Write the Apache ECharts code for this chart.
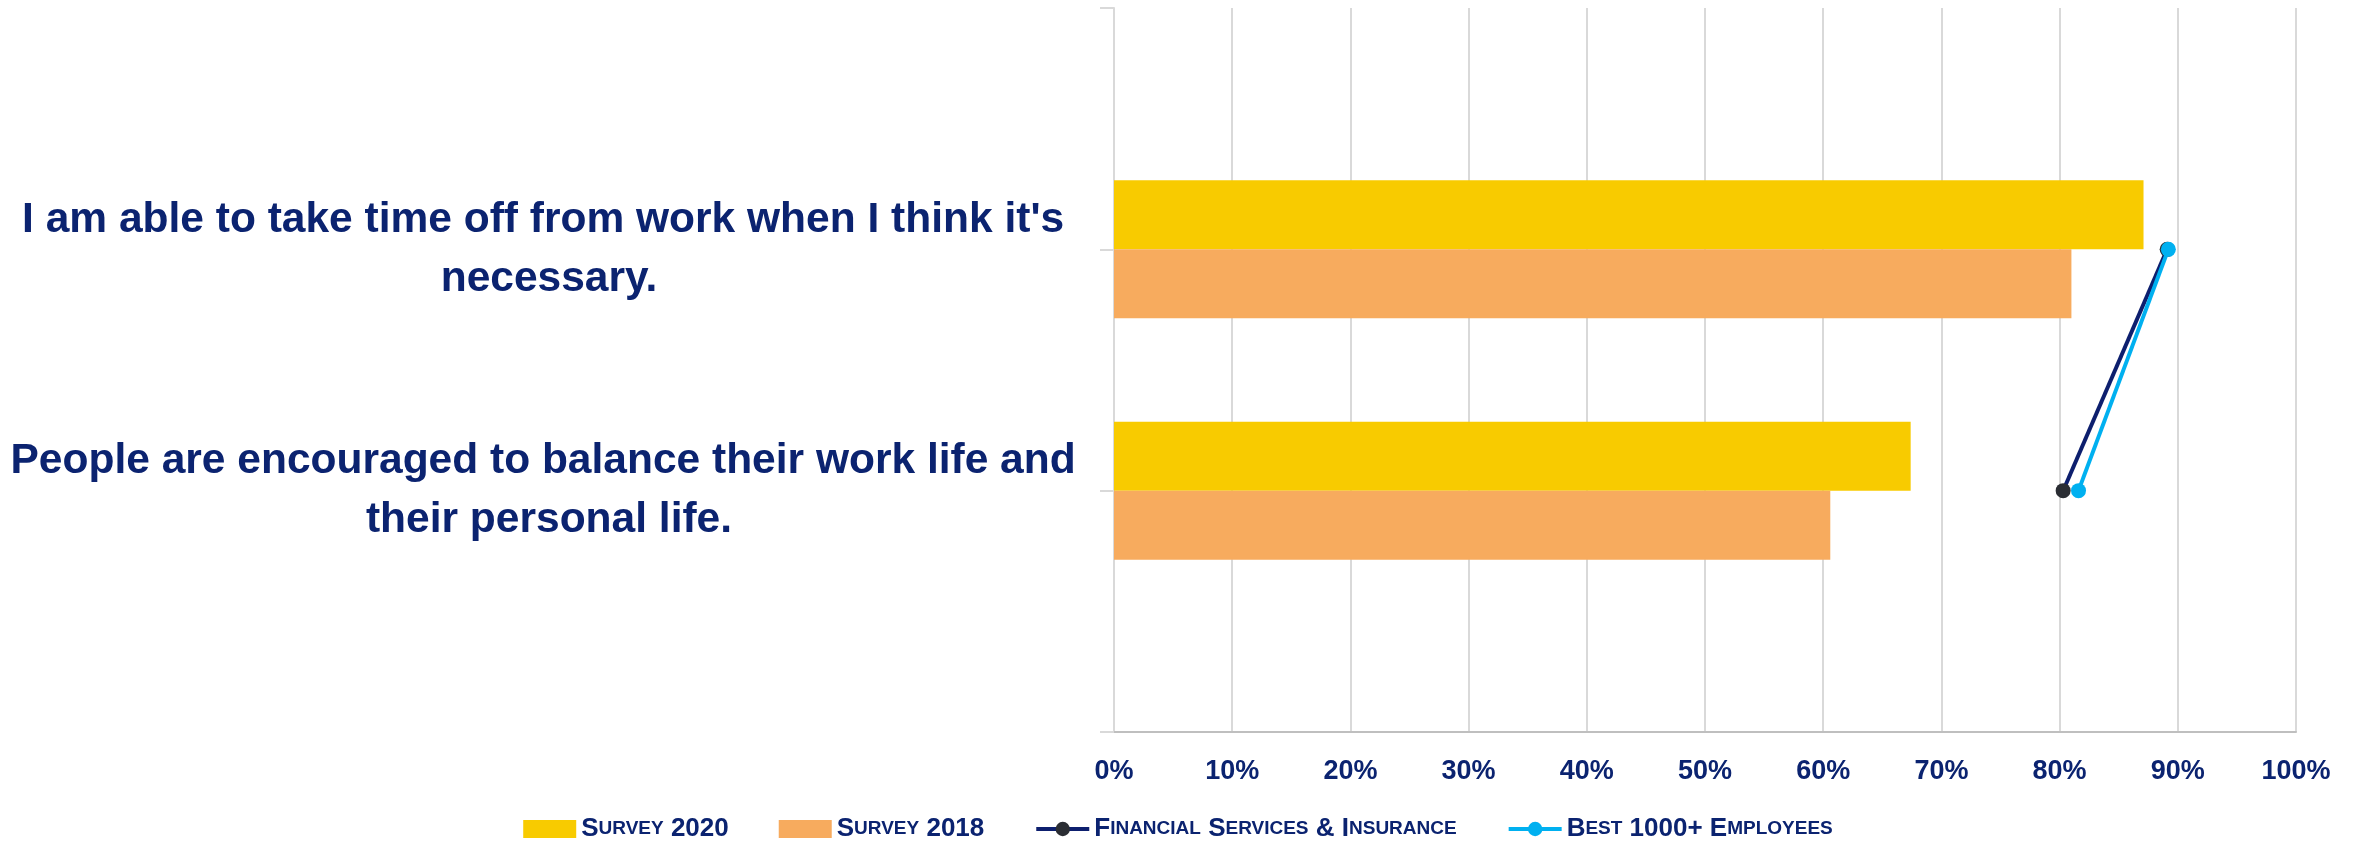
<!DOCTYPE html>
<html>
<head>
<meta charset="utf-8">
<title>Work-life balance survey</title>
<script src="https://cdn.jsdelivr.net/npm/echarts@6/dist/echarts.min.js"></script>
<style>
  html, body { margin: 0; padding: 0; background: #ffffff; }
  #chart { width: 2356px; height: 842px; }
</style>
</head>
<body>
<div id="chart"></div>
<script>
// Statements (empty entries pad the top and bottom of the axis)
const categories = [
  '',
  "I am able to take time off from work when I think it's necessary.",
  'People are encouraged to balance their work life and their personal life.',
  ''
];

// Percent agreeing
const survey2020 = [null, 87.1, 67.4, null];
const survey2018 = [null, 81.0, 60.6, null];
const financialServices = [null, 89.1, 80.3, null];
const best1000Plus = [null, 89.2, 81.6, null];

// Value axis range
const xMin = 0;
const xMax = 100;
const xStep = 10;

const seriesNames = ['Survey 2020', 'Survey 2018', 'Financial Services & Insurance', 'Best 1000+ Employees'];

const NAVY = '#0b2370';
const FONT = "'Liberation Sans', Arial, sans-serif";

// Legend names are set in small caps: lowercase letters become smaller capitals
function smallCaps(name) {
  let out = '';
  let run = '';
  let runSmall = null;
  const flush = () => {
    if (run) out += '{' + (runSmall ? 's' : 'b') + '|' + run + '}';
    run = '';
  };
  for (const ch of name) {
    const small = ch !== ch.toUpperCase();
    if (runSmall !== null && small !== runSmall) flush();
    runSmall = small;
    run += small ? ch.toUpperCase() : ch;
  }
  flush();
  return out;
}

const chart = echarts.init(document.getElementById('chart'), null, { renderer: 'canvas' });

chart.setOption({
  backgroundColor: '#ffffff',
  animation: false,
  grid: {
    left: 1114, right: 60, top: 8, bottom: 110,
    containLabel: false,
    outerBoundsMode: 'none'
  },
  legend: {
    top: 811,
    left: 'center',
    itemWidth: 53,
    itemHeight: 18,
    itemGap: 50,
    data: [
      { name: seriesNames[0], icon: 'rect' },
      { name: seriesNames[1], icon: 'rect' },
      { name: seriesNames[2] },
      { name: seriesNames[3] }
    ],
    formatter: smallCaps,
    lineStyle: { width: 'inherit' },
    textStyle: {
      color: NAVY,
      fontFamily: FONT,
      fontWeight: 'bold',
      rich: {
        b: { fontSize: 26, lineHeight: 30, fontWeight: 'bold', color: NAVY, fontFamily: FONT },
        s: { fontSize: 19, lineHeight: 30, fontWeight: 'bold', color: NAVY, fontFamily: FONT }
      }
    }
  },
  xAxis: {
    type: 'value',
    min: xMin,
    max: xMax,
    interval: xStep,
    axisLine: { show: true, lineStyle: { color: '#bfbfbf', width: 2 } },
    axisTick: { show: false },
    splitLine: { show: true, lineStyle: { color: '#d9d9d9', width: 2 } },
    axisLabel: {
      formatter: '{value}%',
      color: NAVY,
      fontFamily: FONT,
      fontWeight: 'bold',
      fontSize: 27,
      margin: 26
    }
  },
  yAxis: {
    type: 'category',
    data: categories,
    inverse: true,
    boundaryGap: false,
    axisLine: { show: true, lineStyle: { color: '#d9d9d9', width: 2 } },
    axisTick: { show: true, length: 14, lineStyle: { color: '#d9d9d9', width: 2 } },
    splitLine: { show: false },
    axisLabel: {
      color: NAVY,
      fontFamily: FONT,
      fontWeight: 'bold',
      fontSize: 42.5,
      lineHeight: 59,
      width: 1090,
      overflow: 'break',
      align: 'center',
      padding: [6, 0, 0, 0],
      margin: 565
    }
  },
  series: [
    {
      name: seriesNames[0],
      type: 'bar',
      data: survey2020,
      barWidth: 69,
      barGap: '0%',
      itemStyle: { color: '#f8cb00' }
    },
    {
      name: seriesNames[1],
      type: 'bar',
      data: survey2018,
      barWidth: 69,
      barGap: '0%',
      itemStyle: { color: '#f7ab5e' }
    },
    {
      name: seriesNames[2],
      type: 'line',
      data: financialServices,
      symbol: 'circle',
      symbolSize: 15,
      z: 5,
      lineStyle: { color: '#0d1f6e', width: 4 },
      itemStyle: { color: '#2a2d33' }
    },
    {
      name: seriesNames[3],
      type: 'line',
      data: best1000Plus,
      symbol: 'circle',
      symbolSize: 15,
      z: 6,
      lineStyle: { color: '#00b0f0', width: 4 },
      itemStyle: { color: '#00b0f0' }
    }
  ]
});
</script>
</body>
</html>
